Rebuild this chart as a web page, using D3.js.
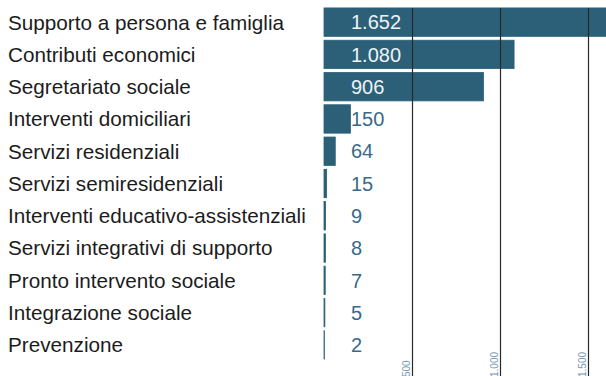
<!DOCTYPE html>
<html>
<head>
<meta charset="utf-8">
<script src="https://cdn.jsdelivr.net/npm/d3@7/dist/d3.min.js"></script>
<style>
  html, body { margin: 0; padding: 0; background: #fff; }
  svg { display: block; }
  text { font-family: "Liberation Sans", Arial, Helvetica, sans-serif; }
</style>
</head>
<body>
<svg id="chart" width="606" height="376"></svg>
<script>
// Interventi e servizi sociali per area di intervento
const categories = [
  "Supporto a persona e famiglia",
  "Contributi economici",
  "Segretariato sociale",
  "Interventi domiciliari",
  "Servizi residenziali",
  "Servizi semiresidenziali",
  "Interventi educativo-assistenziali",
  "Servizi integrativi di supporto",
  "Pronto intervento sociale",
  "Integrazione sociale",
  "Prevenzione"
];
const values = [1652, 1080, 906, 150, 64, 15, 9, 8, 7, 5, 2];
const valueLabels = ["1.652", "1.080", "906", "150", "64", "15", "9", "8", "7", "5", "2"];
const tickValues = [500, 1000, 1500];
const tickLabels = ["500", "1.000", "1.500"];

const W = 606, H = 376;
const svg = d3.select("#chart");

const x = d3.scaleLinear().domain([0, 1500]).range([324, 588]);
const y = d3.scaleBand().domain(categories).range([6, 361])
  .paddingInner(0.12).paddingOuter(0.06);

const barColor = "#2b6078";

// bars
svg.append("g").selectAll("rect")
  .data(values)
  .join("rect")
  .attr("x", x(0))
  .attr("y", (d, i) => y(categories[i]))
  .attr("width", d => Math.min(x(d), W + 2) - x(0))
  .attr("height", y.bandwidth())
  .attr("fill", barColor)
  .attr("stroke", barColor)
  .attr("stroke-width", 0.8);

// vertical grid lines drawn over the bars
svg.append("g").selectAll("line")
  .data(tickValues)
  .join("line")
  .attr("x1", d => Math.round(x(d)) + 0.5)
  .attr("x2", d => Math.round(x(d)) + 0.5)
  .attr("y1", y.range()[0] + 2)
  .attr("y2", H)
  .attr("stroke", "#2a2a2a")
  .attr("stroke-width", 1.2);

// rotated tick labels at the bottom edge
svg.append("g").selectAll("text")
  .data(tickValues)
  .join("text")
  .attr("transform", d => `translate(${Math.round(x(d)) - 2.5},${H + 1}) rotate(-90)`)
  .attr("font-size", 10)
  .attr("fill", "#7397b5")
  .text((d, i) => tickLabels[i]);

// category labels
svg.append("g").selectAll("text")
  .data(categories)
  .join("text")
  .attr("x", 8)
  .attr("y", d => y(d) + y.bandwidth() / 2)
  .attr("dy", "0.36em")
  .attr("font-size", 20.7)
  .attr("fill", "#1c1c1c")
  .text(d => d);

// value labels
svg.append("g").selectAll("text")
  .data(values)
  .join("text")
  .attr("x", 351)
  .attr("y", (d, i) => y(categories[i]) + y.bandwidth() / 2)
  .attr("dy", "0.36em")
  .attr("font-size", 20)
  .attr("fill", d => x(d) > 400 ? "#eef3f6" : "#38698a")
  .text((d, i) => valueLabels[i]);
</script>
</body>
</html>
